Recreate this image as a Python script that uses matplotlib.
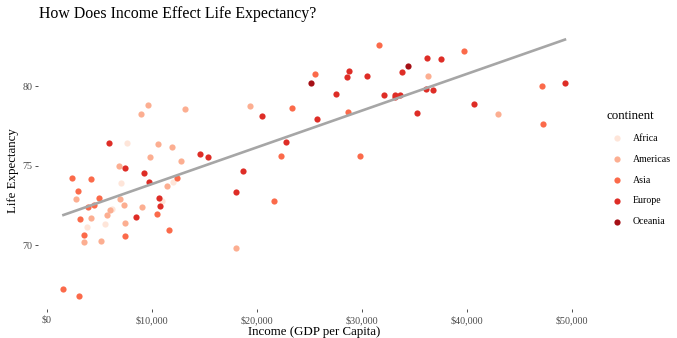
import numpy as np
import matplotlib
matplotlib.use("Agg")
import matplotlib.pyplot as plt
from matplotlib.ticker import FuncFormatter

plt.rcParams['font.family'] = ['Liberation Serif', 'DejaVu Serif']

# Gapminder 2007, countries with life expectancy above 66
continent_order = ['Africa', 'Americas', 'Asia', 'Europe', 'Oceania']
colors = ['#FEE5D9', '#FCAE91', '#FB6A4A', '#DE2D26', '#A50F15']

africa_gdp = [6223.367, 5581.181, 12057.50, 10956.99, 3820.175, 7670.123, 7092.923]
africa_life = [72.301, 71.338, 73.952, 72.801, 71.164, 76.442, 73.923]

americas_gdp = [12779.38, 9065.801, 36319.24, 13171.64, 7006.58, 9645.061, 8948.103,
                6025.375, 6873.262, 5728.354, 5186.05, 3548.331, 7320.88, 11977.57,
                2749.321, 9809.186, 4172.838, 7408.906, 19328.71, 18008.51, 42951.65,
                10611.46, 11415.81]
americas_life = [75.32, 72.39, 80.653, 78.553, 72.889, 78.782, 78.273,
                 72.235, 74.994, 71.878, 70.259, 70.198, 72.567, 76.195,
                 72.899, 75.537, 71.752, 71.421, 78.746, 69.819, 78.242,
                 76.384, 73.747]

asia_gdp = [29796.05, 4959.115, 39724.98, 3540.652, 11605.71, 25523.28, 31656.07,
            4519.461, 1593.065, 23348.14, 47306.99, 10461.06, 12451.66, 3095.772,
            22316.19, 3190.481, 21654.83, 47143.18, 3970.095, 4184.548, 28718.28,
            7458.396, 2441.577, 3025.35]
asia_life = [75.635, 72.961, 82.208, 70.65, 70.964, 80.745, 82.603,
             72.535, 67.297, 78.623, 77.588, 71.993, 74.241, 66.803,
             75.64, 71.688, 72.777, 79.972, 72.396, 74.143, 78.4,
             70.616, 74.249, 73.422]

europe_gdp = [5937.03, 36126.49, 33692.61, 7446.299, 10680.79, 14619.22, 22833.31,
              35278.42, 33207.08, 30470.02, 32170.37, 27538.41, 18008.94, 36180.79,
              40676.00, 28569.72, 9253.896, 36797.93, 49357.19, 15389.92, 20509.65,
              10808.48, 9786.535, 18678.31, 25768.26, 28821.06, 33859.75, 37506.42,
              8458.296, 33203.26]
europe_life = [76.423, 79.829, 79.441, 74.852, 73.005, 75.748, 76.486,
               78.332, 79.313, 80.657, 79.406, 79.483, 73.338, 81.757,
               78.885, 80.546, 74.543, 79.762, 80.196, 75.563, 78.098,
               72.476, 74.002, 74.663, 77.926, 80.941, 80.884, 81.701,
               71.777, 79.425]

oceania_gdp = [34435.37, 25185.01]
oceania_life = [81.235, 80.204]

gdp = [africa_gdp, americas_gdp, asia_gdp, europe_gdp, oceania_gdp]
life = [africa_life, americas_life, asia_life, europe_life, oceania_life]

fig = plt.figure(figsize=(6.77, 3.38), dpi=100)
ax = fig.add_axes([0.0567, 0.0858, 0.8148, 0.8198])

for name, c, x, y in zip(continent_order, colors, gdp, life):
    ax.scatter(x, y, s=20, color=c, label=name, linewidths=0, zorder=2)

# linear fit over all points
all_x = np.concatenate([np.array(g) for g in gdp])
all_y = np.concatenate([np.array(l) for l in life])
slope, intercept = np.polyfit(all_x, all_y, 1)
xs = np.array([all_x.min(), all_x.max()])
ax.plot(xs, intercept + slope * xs, color='#A6A6A6', lw=1.9, zorder=3)

# ggplot-style expansion
xr = all_x.max() - all_x.min()
yr = all_y.max() - all_y.min()
ax.set_xlim(all_x.min() - 0.05 * xr, all_x.max() + 0.05 * xr)
ax.set_ylim(all_y.min() - 0.05 * yr, all_y.max() + 0.05 * yr)

ax.set_xticks([0, 10000, 20000, 30000, 40000, 50000])
ax.set_yticks([70, 75, 80])
ax.xaxis.set_major_formatter(FuncFormatter(lambda v, p: f"${v:,.0f}"))
for s in ax.spines.values():
    s.set_visible(False)
ax.tick_params(length=2.5, width=0.6, color='#333333', labelcolor='#4D4D4D',
               labelsize=7.3, pad=2)

ax.set_xlabel("Income (GDP per Capita)", fontsize=9.3, labelpad=1)
ax.set_ylabel("Life Expectancy", fontsize=9.3, labelpad=2.5)
fig.text(0.058, 0.958, "How Does Income Effect Life Expectancy?", fontsize=11.4,
         ha='left', va='center')

leg = fig.legend(*ax.get_legend_handles_labels(), title='continent',
                 loc='upper left', bbox_to_anchor=(0.889, 0.689),
                 frameon=False, fontsize=7.1, title_fontsize=9.3,
                 borderpad=0, labelspacing=1.2, handletextpad=0.6,
                 handlelength=2.0, alignment='left')

fig.savefig("out.png", dpi=100)
